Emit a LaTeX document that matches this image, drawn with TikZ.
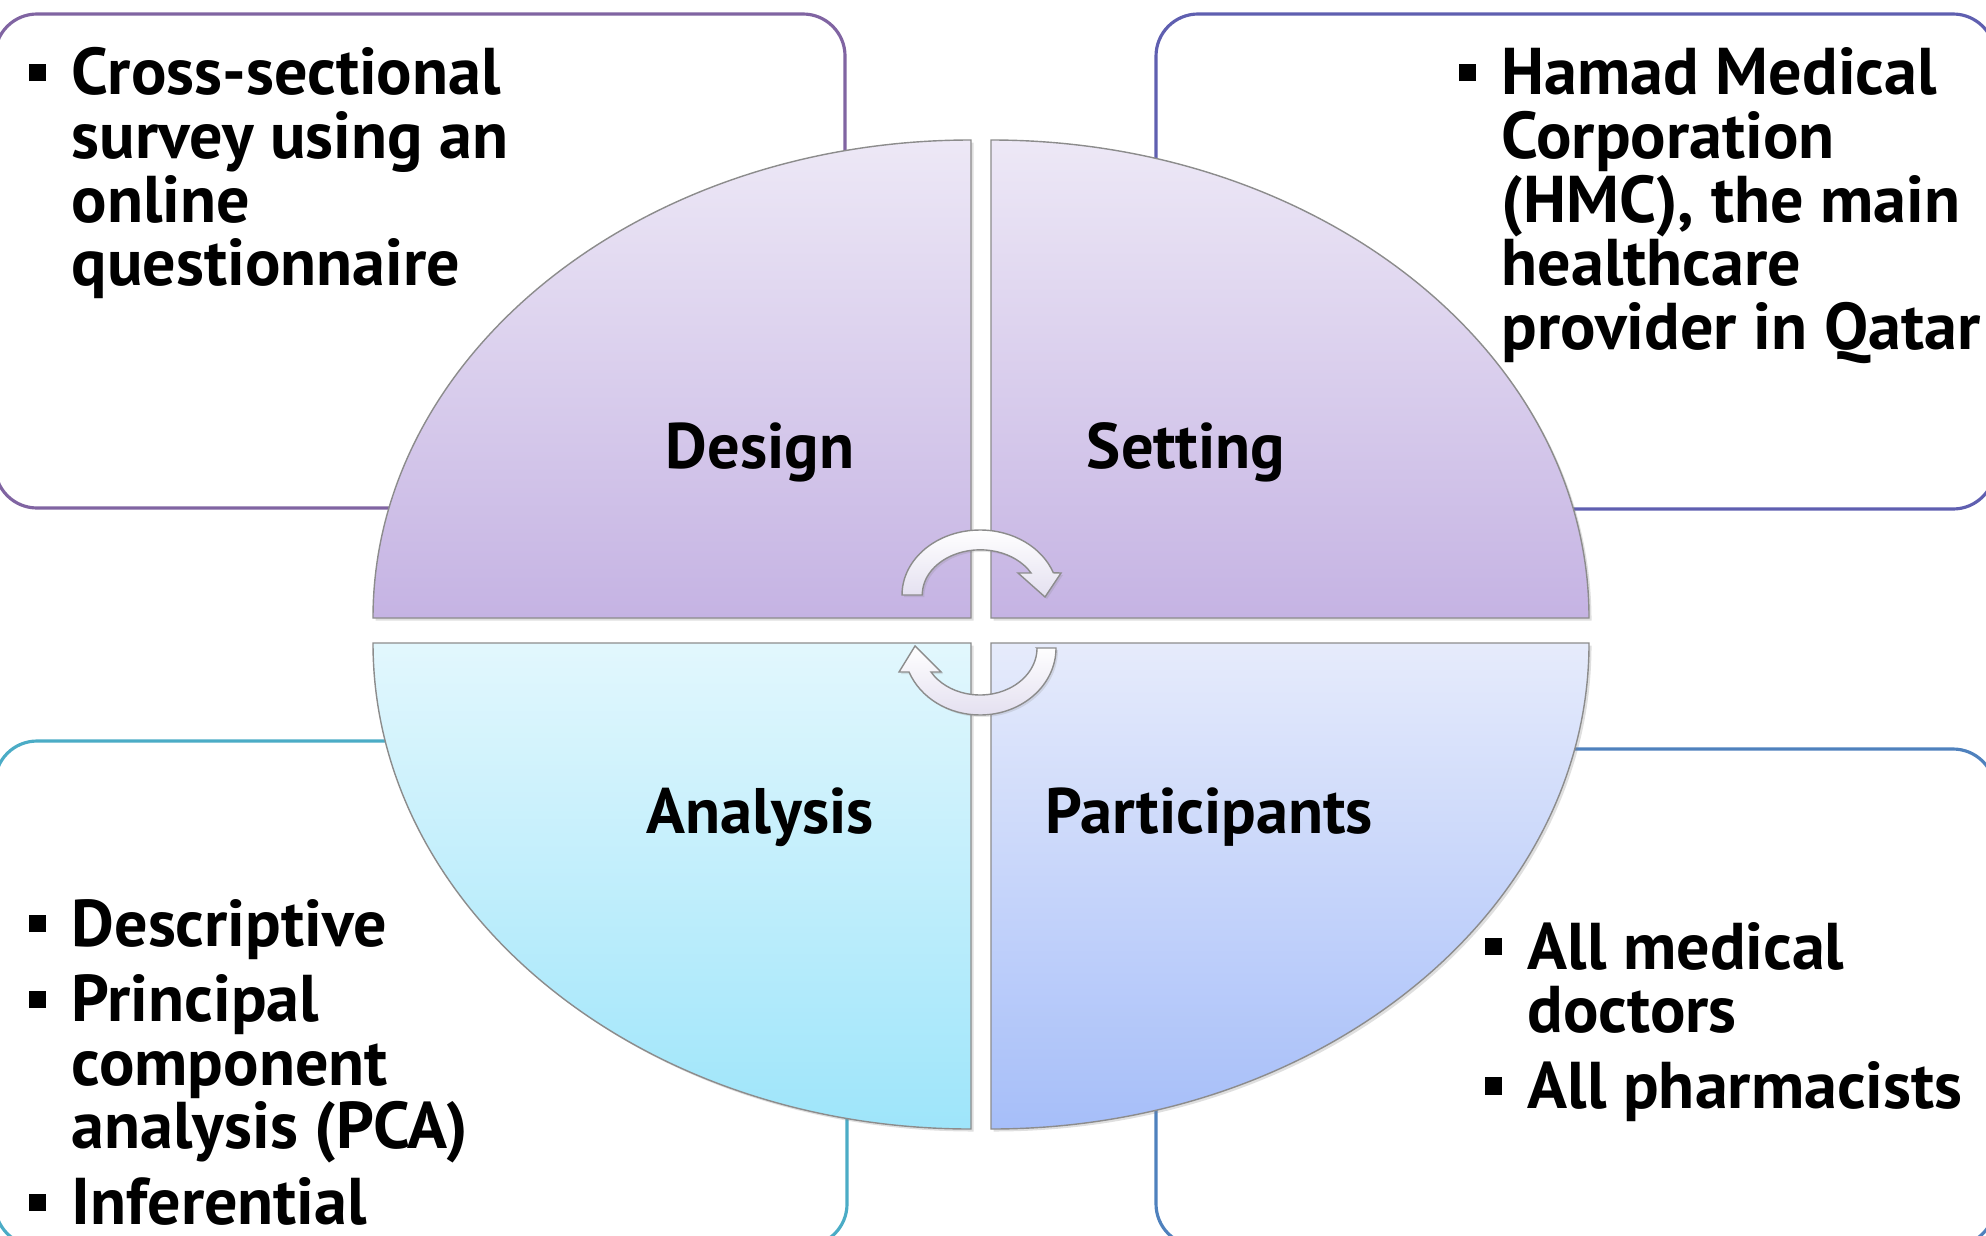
\documentclass[tikz,border=0pt]{standalone}
\usepackage{fontspec}
\setmainfont{PT Sans}
\usetikzlibrary{shapes,
                arrows,
                calc,
                shadows,
                positioning}
\definecolor{designline}{HTML}{8064A2}
\definecolor{settingline}{HTML}{5F5FB0}
\definecolor{analysisline}{HTML}{4BACC6}
\definecolor{partline}{HTML}{4F81BD}
\definecolor{lavtop}{HTML}{EDE8F6}
\definecolor{lavbot}{HTML}{C5B3E3}
\definecolor{cyantop}{HTML}{E2F7FD}
\definecolor{cyanbot}{HTML}{9EE5FA}
\definecolor{bluetop}{HTML}{E6EBFB}
\definecolor{bluebot}{HTML}{A6BEF9}
\definecolor{rimgray}{HTML}{8C8C8C}
\definecolor{arrowlav}{HTML}{E4E0F0}
\tikzstyle{infobox} = [rounded corners=0.42cm, line width=0.9pt, fill=white]
\tikzstyle{quarter} = [draw=rimgray, line width=0.4pt, drop shadow={shadow xshift=0.025cm, shadow yshift=-0.025cm, opacity=0.25}]
\tikzstyle{cyclearrow} = [draw=rimgray, line width=0.4pt, top color=white, bottom color=arrowlav, drop shadow={shadow xshift=0.02cm, shadow yshift=-0.02cm, opacity=0.2}]
\tikzstyle{quadtext} = [font=\fontsize{18.3}{20}\selectfont\bfseries, inner sep=0, anchor=base]
\tikzstyle{itemtext} = [font=\fontsize{18.8}{18.07}\selectfont\bfseries, inner sep=0, anchor=base west]
\newcommand{\sqbul}{\rule[0.21em]{0.26em}{0.26em}}
\newcommand{\bitem}[1]{\par\hangindent=0.43cm\hangafter=1\noindent\makebox[0.43cm][l]{\sqbul}#1\par}
\newcommand{\blist}[1]{\vtop{\hsize=6.5cm\parindent=0pt\parskip=3.5pt\rightskip=0pt plus 1fil #1}}

\begin{document}
\begin{tikzpicture}[x=0.01cm, y=0.01cm]
        \useasboundingbox (0,0) rectangle (1986,1235);
        % outer boxes
        \draw [infobox, draw=designline] (-5,727) rectangle (845,1221);
        \draw [infobox, draw=settingline] (1156,726) rectangle (1995,1221);
        \draw [infobox, draw=analysisline] (-5,-11) rectangle (847,494);
        \draw [infobox, draw=partline] (1156,-11) rectangle (1995,486);
        % quarters
        \draw [quarter, top color=lavtop, bottom color=lavbot] (971,617) -- ++(-598,0) arc[start angle=180, end angle=90, x radius=598, y radius=478] -- cycle;
        \draw [quarter, top color=lavtop, bottom color=lavbot] (991,617) -- ++(0,478) arc[start angle=90, end angle=0, x radius=598, y radius=478] -- cycle;
        \draw [quarter, top color=cyantop, bottom color=cyanbot] (971,592) -- ++(-598,0) arc[start angle=180, end angle=270, x radius=598, y radius=486] -- cycle;
        \draw [quarter, top color=bluetop, bottom color=bluebot] (991,592) -- ++(0,-486) arc[start angle=270, end angle=360, x radius=598, y radius=486] -- cycle;
        % cycle arrows
        \draw [cyclearrow] (922,640) -- (902,640) arc[start angle=180, end angle=20, x radius=78, y radius=65] -- (1061,662) -- (1045,638) -- (1018,662) -- (1031,662) arc[start angle=29, end angle=180, x radius=58, y radius=45] -- cycle;
        \draw [cyclearrow] (1037,587) -- (1056,587) arc[start angle=0, end angle=-159, x radius=76, y radius=67] -- (899,563) -- (915,589) -- (941,563) -- (931,563) arc[start angle=-149.3, end angle=0, x radius=57, y radius=47] -- cycle;
        % labels
        \node (design) [quadtext] at (760,767) {Design};
        \node (setting) [quadtext] at (1186,767) {Setting};
        \node (analysis) [quadtext] at (760,402) {Analysis};
        \node (participants) [quadtext] at (1209,402) {Participants};
        % box texts
        \node (designtext) [itemtext] at (28,1140) {\blist{\bitem{Cross-sectional\newline survey using an\newline online\newline questionnaire}}};
        \node (settingtext) [itemtext] at (1458,1140) {\blist{\bitem{Hamad Medical\newline Corporation\newline (HMC), the main\newline healthcare\newline provider in Qatar}}};
        \node (analysistext) [itemtext] at (28,289) {\blist{\bitem{Descriptive}\bitem{Principal\newline component\newline analysis (PCA)}\bitem{Inferential}}};
        \node (participantstext) [itemtext] at (1484,266) {\blist{\bitem{All medical\newline doctors}\bitem{All pharmacists}}};
\end{tikzpicture}
\end{document}
